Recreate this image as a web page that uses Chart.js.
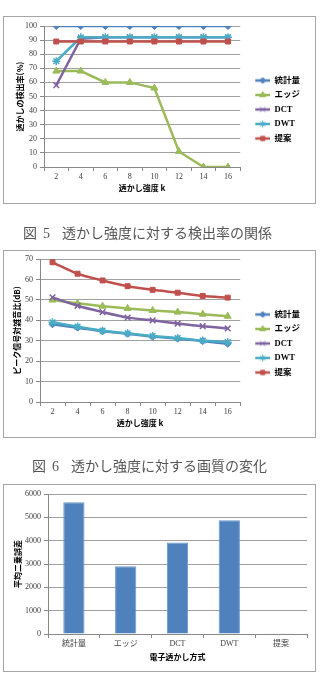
<!DOCTYPE html>
<html><head><meta charset="utf-8">
<script src="https://cdn.jsdelivr.net/npm/chart.js@4"></script>
<style>
html,body{margin:0;padding:0;background:#fff;width:325px;height:690px;overflow:hidden;}
.box{position:absolute;left:3px;width:313px;height:188px;box-sizing:border-box;border:1px solid #a6a6a6;pointer-events:none;}
canvas{position:absolute;left:3px;}
.cap{position:absolute;font-family:"Noto Sans CJK JP",sans-serif;font-size:14px;color:#555;white-space:nowrap;line-height:16px;}
.cap .n{font-family:"Liberation Serif",serif;}
</style></head><body>
<canvas id="c1" width="313" height="188" style="top:16px"></canvas>
<div class="box" style="top:16px"></div>
<div class="cap" style="left:23px;top:224px">図<span class="n" style="margin-left:6px">5</span><span style="margin-left:12px">透かし強度に対する検出率の関係</span></div>
<canvas id="c2" width="313" height="188" style="top:250px"></canvas>
<div class="box" style="top:250px"></div>
<div class="cap" style="left:32px;top:457px">図<span class="n" style="margin-left:6px">6</span><span style="margin-left:12px">透かし強度に対する画質の変化</span></div>
<canvas id="c3" width="313" height="188" style="top:484px"></canvas>
<div class="box" style="top:484px"></div>
<script>
// ---- data ----
const strengths = ['2','4','6','8','10','12','14','16'];
const methods = ['統計量','エッジ','DCT','DWT','提案'];
// Fig.5 detection rate (%)
const det_stat = [100,100,100,100,100,100,100,100];
const det_edge = [68,68,60,60,56,11,0,0];
const det_dct  = [58,91,92,92,92,92,92,92];
const det_dwt  = [75,92,92,92,92,92,92,92];
const det_prop = [89,89,89,89,89,89,89,89];
// Fig.6 PSNR (dB)
const psnr_stat = [38,36.4,34.6,33.4,32,31,29.8,28.5];
const psnr_edge = [49.9,48.3,46.9,45.8,44.8,44,43,42];
const psnr_dct  = [51.2,47.1,44,41.3,40,38.4,37.1,36];
const psnr_dwt  = [39,36.9,34.9,33.6,32.3,31.3,30.1,29.3];
const psnr_prop = [68.4,62.8,59.5,56.7,54.9,53.5,51.9,51.1];
// MSE
const mse = [5650,2900,3920,4870,30];
const yTicks1 = [0,100,10];
const yTicks2 = [0,70,10];
const yTicks3 = [0,6000,1000];

// ---- styles ----
const FF = '"Liberation Serif","Noto Sans CJK JP",serif';
const TF = '"Noto Sans CJK JP","Liberation Sans",sans-serif';
const colors = ['#4F81BD','#9BBB59','#8064A2','#4BACC6','#C0504D'];
const pstyles = ['rectRot','triangle','crossRot','star','rect'];
const pradius = [3.5,4,4,4,3.5];

function icon(i){
  const c=document.createElement('canvas'); c.width=24; c.height=10;
  const x=c.getContext('2d');
  x.strokeStyle=colors[i]; x.lineWidth=2.5;
  x.beginPath(); x.moveTo(9,5); x.lineTo(24,5); x.stroke();
  x.fillStyle=colors[i]; x.lineWidth=1;
  Chart.helpers.drawPoint(x,{pointStyle:pstyles[i],radius:pradius[i]-0.5,rotation:0,borderWidth:1},16.5,5);
  return c;
}
const icons = colors.map((c,i)=>icon(i));
const plain = v => String(v);

function lineDatasets(arrs, tension){
  return arrs.map((d,i)=>({
    label: methods[i], data: d,
    borderColor: colors[i], backgroundColor: colors[i],
    borderWidth: 2.5, pointStyle: pstyles[i], pointRadius: pradius[i],
    pointBorderWidth: (i===2||i===3)?1.5:1, pointBorderColor: colors[i], pointBackgroundColor: colors[i],
    tension: tension, order: 5-i
  }));
}

function lineOpts(yr, ytitle, yw, pad){
  return {
    responsive:false, animation:false, devicePixelRatio:1,
    layout:{padding:pad},
    plugins:{
      tooltip:{enabled:false},
      legend:{position:'right', labels:{
        font:{family:FF,size:8.5,weight:'bold'}, color:'#000', padding:6,
        usePointStyle:true, pointStyleWidth:24, boxHeight:8,
        sort:(a,b)=>a.datasetIndex-b.datasetIndex,
        generateLabels:(chart)=>{
          const items = Chart.defaults.plugins.legend.labels.generateLabels(chart);
          items.forEach(it=>{ it.pointStyle = icons[it.datasetIndex]; });
          return items;
        }
      }}
    },
    scales:{
      x:{offset:true,
        grid:{offset:true,drawOnChartArea:false,tickLength:4,color:'#888'},
        border:{color:'#888'},
        ticks:{font:{family:FF,size:8},color:'#404040',padding:1,maxRotation:0,autoSkip:false},
        title:{display:true,text:'透かし強度 k',font:{family:TF,size:8,weight:'bold'},color:'#000',padding:0},
        afterFit:s=>{s.height=26;}
      },
      y:{min:yr[0],max:yr[1],
        ticks:{stepSize:yr[2],font:{family:FF,size:8},color:'#404040',padding:3,callback:plain},
        grid:{color:'#a0a0a0',tickLength:4,tickColor:'#888'},
        border:{color:'#888'},
        title:{display:true,text:ytitle,font:{family:TF,size:8,weight:'bold'},color:'#000',padding:0},
        afterFit:s=>{s.width=yw;}
      }
    }
  };
}

new Chart(document.getElementById('c1'),{
  type:'line',
  data:{labels:strengths,datasets:lineDatasets([det_stat,det_edge,det_dct,det_dwt,det_prop],0)},
  options:lineOpts(yTicks1,'透かしの検出率(%)',29,{left:12,top:10,right:6,bottom:11})
});
new Chart(document.getElementById('c2'),{
  type:'line',
  data:{labels:strengths,datasets:lineDatasets([psnr_stat,psnr_edge,psnr_dct,psnr_dwt,psnr_prop],0.25)},
  options:lineOpts(yTicks2,'ピーク信号対雑音比(dB)',28,{left:9,top:9,right:6,bottom:10})
});
new Chart(document.getElementById('c3'),{
  type:'bar',
  data:{labels:methods,datasets:[{label:'平均二乗誤差',data:mse,backgroundColor:'#4F81BD',borderColor:'#6a97cf',borderWidth:1,
    categoryPercentage:1,barPercentage:0.41}]},
  options:{
    responsive:false, animation:false, devicePixelRatio:1,
    layout:{padding:{left:10,top:10,right:9,bottom:10}},
    plugins:{legend:{display:false},tooltip:{enabled:false}},
    scales:{
      x:{grid:{offset:true,drawOnChartArea:false,tickLength:4,color:'#888'},
        border:{color:'#888'},
        ticks:{font:{family:FF,size:8},color:'#404040',padding:1,maxRotation:0,autoSkip:false},
        title:{display:true,text:'電子透かし方式',font:{family:TF,size:8,weight:'bold'},color:'#000',padding:0},
        afterFit:s=>{s.height=28;}
      },
      y:{min:yTicks3[0],max:yTicks3[1],
        ticks:{stepSize:yTicks3[2],font:{family:FF,size:8},color:'#404040',padding:3,callback:plain},
        grid:{color:'#a0a0a0',tickLength:4,tickColor:'#888'},
        border:{color:'#888'},
        title:{display:true,text:'平均二乗誤差',font:{family:TF,size:8,weight:'bold'},color:'#000',padding:0},
        afterFit:s=>{s.width=35;}
      }
    }
  }
});
</script>
</body></html>
